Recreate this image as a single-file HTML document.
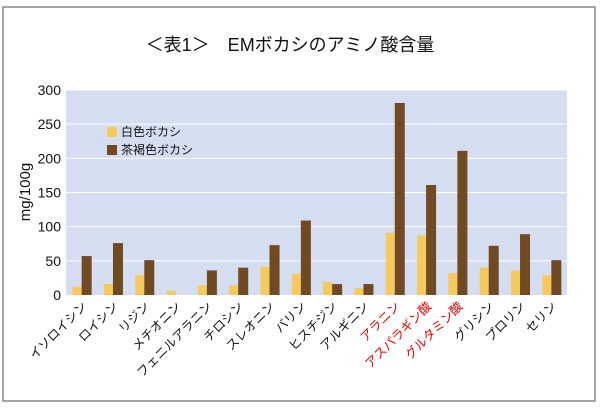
<!DOCTYPE html>
<html><head><meta charset="utf-8"><style>
html,body{margin:0;padding:0;background:#fff;}
svg{display:block;font-family:"Liberation Sans","Noto Sans CJK JP",sans-serif;}
</style></head><body>
<svg width="600" height="410" viewBox="0 0 600 410">
<rect x="3" y="7" width="592" height="394" fill="#fff" stroke="#888" stroke-width="1.5"/>
<text x="290" y="51" font-size="18" text-anchor="middle" fill="#111">＜表1＞　EMボカシのアミノ酸含量</text>
<rect x="66" y="90" width="501" height="205" fill="#d5def0"/>
<g id="grid"></g>
<g id="bars"></g>
<g id="yticks"></g>
<g id="xlabels"></g>
<text transform="translate(30,192) rotate(-90)" font-size="15" text-anchor="middle" fill="#111">mg/100g</text>
<g>
<rect x="107" y="127" width="10" height="10" fill="#f5c95c"/>
<text x="121" y="136" font-size="12" fill="#111">白色ボカシ</text>
<rect x="107" y="145" width="10" height="10" fill="#6f4a22"/>
<text x="121" y="154" font-size="12" fill="#111">茶褐色ボカシ</text>
</g>
</svg>
<script>
const categories=["イソロイシン","ロイシン","リジン","メチオニン","フェニルアラニン","チロシン","スレオニン","バリン","ヒスチジン","アルギニン","アラニン","アスパラギン酸","グルタミン酸","グリシン","プロリン","セリン"];
const whiteValues=[12,16,29,6,14,14,41,31,19,10,91,87,32,40,36,29];
const brownValues=[57,76,51,0,36,40,73,109,16,16,281,161,211,72,89,51];
const yTicks=[0,50,100,150,200,250,300];
const redLabels=["アラニン","アスパラギン酸","グルタミン酸"];
const NS="http://www.w3.org/2000/svg";
const X0=66,X1=567,Y0=295,Y1=90,YMAX=300;
const n=categories.length;
const step=(X1-X0)/n;
function y(v){return Y0-(v/YMAX)*(Y0-Y1);}
function xc(i){return X0+step*(i+0.5);}
const grid=document.getElementById('grid'),bars=document.getElementById('bars'),yt=document.getElementById('yticks'),xl=document.getElementById('xlabels');
yTicks.forEach(t=>{
 if(t>0){const l=document.createElementNS(NS,'line');
 l.setAttribute('x1',X0);l.setAttribute('x2',X1);l.setAttribute('y1',y(t));l.setAttribute('y2',y(t));
 l.setAttribute('stroke','#fff');l.setAttribute('stroke-width','1');
 
 
 grid.appendChild(l);}
 const tx=document.createElementNS(NS,'text');
 tx.setAttribute('x',X0-5);tx.setAttribute('y',y(t)+5);tx.setAttribute('text-anchor','end');tx.setAttribute('font-size','14');tx.setAttribute('fill','#111');
 tx.textContent=t;
 
 
 yt.appendChild(tx);
});
const bw=9;
categories.forEach((c,i)=>{
 const cx=xc(i);
 const w=document.createElementNS(NS,'rect');
 w.setAttribute('x',cx-bw);w.setAttribute('width',bw);w.setAttribute('y',y(whiteValues[i]));w.setAttribute('height',Y0-y(whiteValues[i]));w.setAttribute('fill','#f5c95c');
 
 
 bars.appendChild(w);
 const b=document.createElementNS(NS,'rect');
 b.setAttribute('x',cx);b.setAttribute('width',bw+1);b.setAttribute('y',y(brownValues[i]));b.setAttribute('height',Y0-y(brownValues[i]));b.setAttribute('fill','#6f4a22');
 
 
 bars.appendChild(b);
 const t=document.createElementNS(NS,'text');
 t.setAttribute('transform','translate('+(cx+6)+',307) rotate(-45)');
 t.setAttribute('text-anchor','end');t.setAttribute('font-size','12.5');
 t.setAttribute('fill',redLabels.includes(c)?'#e00':'#111');
 t.textContent=c;
 
 
 xl.appendChild(t);
});
</script>
</body></html>
